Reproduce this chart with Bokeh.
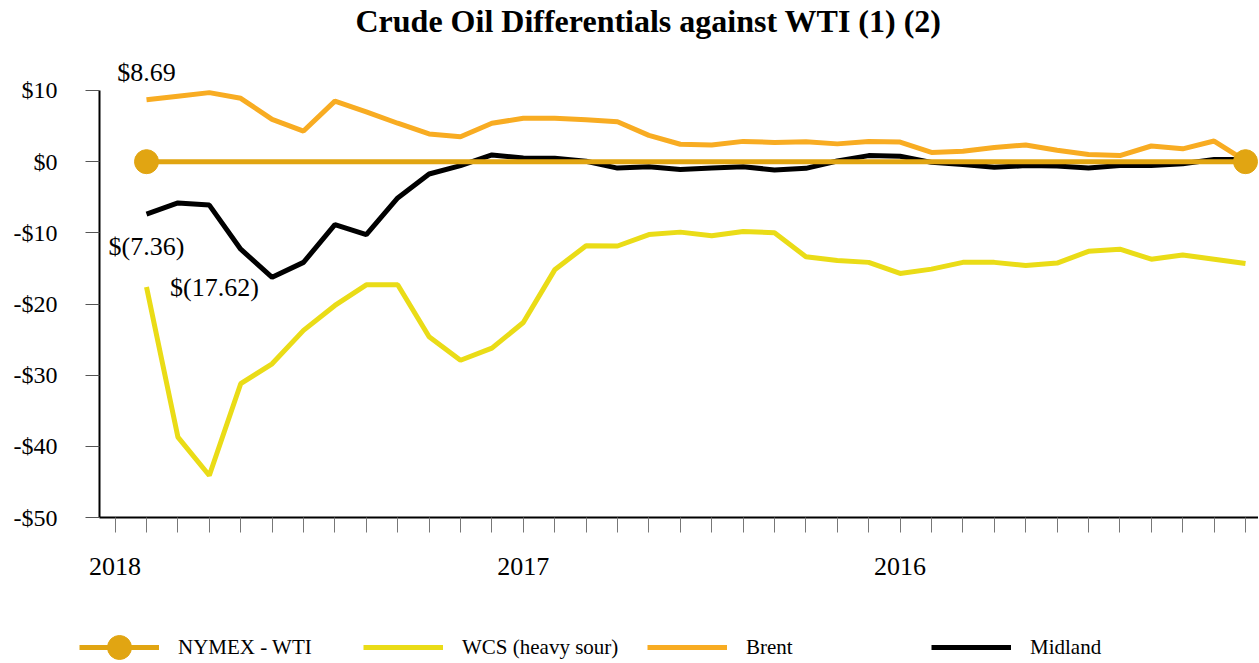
from bokeh.plotting import figure
from bokeh.models import FixedTicker, Label, Legend, LegendItem, Range1d
from bokeh.embed import file_html
from bokeh.resources import INLINE

# ---------------- data ----------------
month_index = list(range(1, 37))
x_tick_positions = list(range(0, 37))
year_labels = ["2018", "2017", "2016"]
year_label_positions = [0, 13, 25]

nymex_wti = [0, 0, 0, 0, 0, 0, 0, 0, 0, 0, 0, 0, 0, 0, 0, 0, 0, 0,
             0, 0, 0, 0, 0, 0, 0, 0, 0, 0, 0, 0, 0, 0, 0, 0, 0, 0]
wcs = [-17.62, -38.7, -44.1, -31.2, -28.4, -23.7, -20.2, -17.3, -17.3, -24.6,
       -27.9, -26.2, -22.6, -15.2, -11.8, -11.85, -10.25, -9.9, -10.4, -9.8,
       -10.0, -13.35, -13.9, -14.15, -15.7, -15.1, -14.15, -14.15, -14.6, -14.25,
       -12.6, -12.3, -13.7, -13.1, -13.7, -14.3]
brent = [8.69, 9.2, 9.7, 8.9, 5.95, 4.3, 8.5, 7.0, 5.4, 3.9,
         3.5, 5.4, 6.1, 6.1, 5.9, 5.6, 3.7, 2.45, 2.35, 2.85,
         2.7, 2.8, 2.5, 2.85, 2.75, 1.3, 1.45, 2.0, 2.35, 1.6,
         1.0, 0.85, 2.2, 1.8, 2.9, 0.1]
midland = [-7.36, -5.8, -6.1, -12.3, -16.25, -14.15, -8.85, -10.25, -5.1, -1.73,
           -0.56, 0.94, 0.5, 0.47, 0.05, -0.9, -0.7, -1.1, -0.9, -0.7,
           -1.17, -0.94, 0.1, 0.85, 0.75, -0.1, -0.4, -0.8, -0.55, -0.6,
           -0.9, -0.55, -0.55, -0.3, 0.3, 0.3]

y_ticks = [-50, -40, -30, -20, -10, 0, 10]
y_tick_labels = ["-$50", "-$40", "-$30", "-$20", "-$10", "$0", "$10"]

series_names = ["NYMEX - WTI", "WCS (heavy sour)", "Brent", "Midland"]
title_text = "Crude Oil Differentials against WTI (1) (2)"

# ---------------- style / layout ----------------
FONT = "Liberation Serif"
C_WTI = "#E1A512"
C_WCS = "#EADC17"
C_BRENT = "#F8AC22"
C_MID = "#000000"

AXIS_X = -0.497          # where the value axis sits on the category scale
X_START, X_END = -3.65, 36.414
Y_START, Y_END = -70.09, 17.025


def money(v):
    return f"${v:.2f}" if v >= 0 else f"$({abs(v):.2f})"


p = figure(width=1258, height=660, output_backend="svg", toolbar_location=None,
           x_range=Range1d(X_START, X_END), y_range=Range1d(Y_START, Y_END),
           min_border_left=0, min_border_right=0, min_border_top=40,
           min_border_bottom=0)
p.outline_line_color = None
p.xgrid.visible = False
p.ygrid.visible = False

p.title.text = title_text
p.title.align = "left"
p.title.offset = 355
p.title.vertical_align = "top"
p.title.standoff = 0
p.title.text_font = FONT
p.title.text_font_size = "32px"
p.title.text_font_style = "bold"
p.title.text_color = "#000000"

r_wcs = p.line(month_index, wcs, line_color=C_WCS, line_width=5)
r_brent = p.line(month_index, brent, line_color=C_BRENT, line_width=5)
r_mid = p.line(month_index, midland, line_color=C_MID, line_width=5)
r_wti = p.line(month_index, nymex_wti, line_color=C_WTI, line_width=5)
r_dots = p.scatter([month_index[0], month_index[-1]], [nymex_wti[0], nymex_wti[-1]],
                   size=24, line_width=1, fill_color=C_WTI, line_color=C_WTI)

# axes (placed at fixed positions inside the frame)
xa = p.xaxis[0]
xa.fixed_location = y_ticks[0]
xa.ticker = FixedTicker(ticks=x_tick_positions, minor_ticks=[])
xa.major_label_overrides = {t: "" for t in x_tick_positions}
for pos, lab in zip(year_label_positions, year_labels):
    xa.major_label_overrides[pos] = lab
xa.bounds = (AXIS_X, X_END)
xa.axis_line_width = 2
xa.axis_line_color = "#000000"
xa.major_tick_in = 0
xa.major_tick_out = 15
xa.major_tick_line_color = "#777777"
xa.minor_tick_line_color = None
xa.major_label_standoff = 25
xa.major_label_text_font = FONT
xa.major_label_text_font_size = "26px"
xa.major_label_text_color = "#000000"

ya = p.yaxis[0]
ya.fixed_location = AXIS_X
ya.ticker = FixedTicker(ticks=y_ticks, minor_ticks=[])
ya.major_label_overrides = dict(zip(y_ticks, y_tick_labels))
ya.bounds = (y_ticks[0], y_ticks[-1])
ya.axis_line_width = 2
ya.axis_line_color = "#000000"
ya.major_tick_in = 0
ya.major_tick_out = 14
ya.major_tick_line_color = "#555555"
ya.minor_tick_line_color = None
ya.major_label_standoff = 28
ya.major_label_text_font = FONT
ya.major_label_text_font_size = "24px"
ya.major_label_text_color = "#000000"

# value labels
lab_kw = dict(text_font=FONT, text_font_size="26px", text_color="#000000",
              text_align="center", text_baseline="middle")
p.add_layout(Label(x=month_index[0], y=brent[0], text=money(brent[0]),
                   x_offset=0, y_offset=27, **lab_kw))
p.add_layout(Label(x=month_index[0], y=midland[0], text=money(midland[0]),
                   x_offset=0, y_offset=-32, **lab_kw))
p.add_layout(Label(x=month_index[0], y=wcs[0], text=money(wcs[0]),
                   x_offset=68, y_offset=0, **lab_kw))

legend = Legend(items=[
    LegendItem(label=series_names[0], renderers=[r_wti, r_dots]),
    LegendItem(label=series_names[1], renderers=[r_wcs]),
    LegendItem(label=series_names[2], renderers=[r_brent]),
    LegendItem(label=series_names[3], renderers=[r_mid]),
], orientation="horizontal", location=(79, -17), glyph_width=80, glyph_height=60,
    label_standoff=19, label_width=181, label_height=20, spacing=4, padding=0, margin=0,
    border_line_color=None, background_fill_alpha=0,
    label_text_font=FONT, label_text_font_size="21px", label_text_color="#000000")
p.add_layout(legend)

open("out.html", "w").write(file_html(p, INLINE))
